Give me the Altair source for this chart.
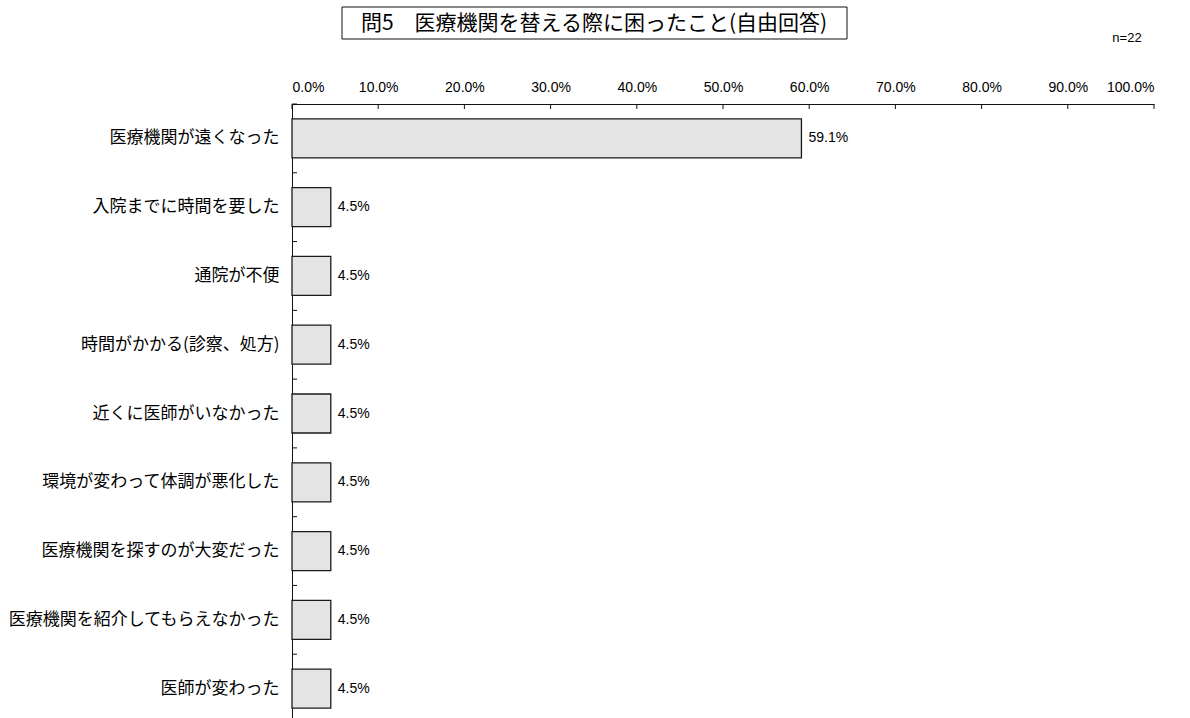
import altair as alt
import pandas as pd

categories = [
    "医療機関が遠くなった",
    "入院までに時間を要した",
    "通院が不便",
    "時間がかかる(診察、処方)",
    "近くに医師がいなかった",
    "環境が変わって体調が悪化した",
    "医療機関を探すのが大変だった",
    "医療機関を紹介してもらえなかった",
    "医師が変わった",
]
values = [0.591, 0.045, 0.045, 0.045, 0.045, 0.045, 0.045, 0.045, 0.045]
x_ticks = [0.0, 0.1, 0.2, 0.3, 0.4, 0.5, 0.6, 0.7, 0.8, 0.9, 1.0]
title_text = "問5　医療機関を替える際に困ったこと(自由回答)"
n_text = "n=22"

JP = "Noto Sans CJK JP"
LAT = "Liberation Sans"

W, H = 862, 614

df = pd.DataFrame({"cat": categories, "val": values})
tick_df = pd.DataFrame({"t": x_ticks})
one = pd.DataFrame({"title": [title_text], "n": [n_text]})

yscale = alt.Scale(domain=categories, paddingInner=0, paddingOuter=0, range=[0, 619])
xscale = alt.Scale(domain=[0, 1], nice=False)

bars = alt.Chart(df).mark_bar(
    size=39, fill="#e4e4e4", stroke="#1a1a1a", strokeWidth=1.3
).encode(
    y=alt.Y("cat:N", scale=yscale, sort=categories,
            axis=alt.Axis(title=None, labelFont=JP, labelFontSize=17, labelColor="#000",
                          labelPadding=13, ticks=False, domainColor="#111",
                          labelLimit=400)),
    x=alt.X("val:Q", scale=xscale,
            axis=alt.Axis(orient="top", title=None, values=x_ticks, format=".1%",
                          labelFont=LAT, labelFontSize=14, labelColor="#000",
                          labelPadding=10, ticks=False, grid=False, domainColor="#111")),
)

labels = alt.Chart(df).mark_text(
    align="left", baseline="middle", dx=7, font=LAT, fontSize=14, color="#000"
).encode(
    y=alt.Y("cat:N", scale=yscale, sort=categories),
    x=alt.X("val:Q", scale=xscale),
    text=alt.Text("val:Q", format=".1%"),
)

xticks = alt.Chart(tick_df).mark_rule(color="#111", strokeWidth=1).encode(
    x=alt.X("t:Q", scale=xscale),
    y=alt.value(0),
    y2=alt.value(5),
)

yticks = alt.Chart(df).mark_rule(color="#111", strokeWidth=1).encode(
    y=alt.Y("cat:N", scale=yscale, sort=categories, bandPosition=0),
    x=alt.value(0),
    x2=alt.value(5),
)

title_box = alt.Chart(one).mark_rect(fill="white", stroke="#111", strokeWidth=1).encode(
    x=alt.value(50), x2=alt.value(555), y=alt.value(-97), y2=alt.value(-65)
)
title_txt = alt.Chart(one).mark_text(
    align="center", baseline="middle", font=JP, fontSize=21, color="#000"
).encode(x=alt.value(302), y=alt.value(-80), text="title:N")

n_txt = alt.Chart(one).mark_text(
    align="center", baseline="middle", font=LAT, fontSize=13, color="#000"
).encode(x=alt.value(835), y=alt.value(-66), text="n:N")

chart = alt.layer(bars, labels, xticks, yticks, title_box, title_txt, n_txt).properties(
    width=W, height=H,
    background="white",
    autosize=alt.AutoSizeParams(type="none"),
    padding={"left": 292, "top": 104, "right": 36, "bottom": 0},
).configure_view(strokeWidth=0, stroke="transparent")

chart.save("out.html", embed_options={"renderer": "svg", "actions": False})
